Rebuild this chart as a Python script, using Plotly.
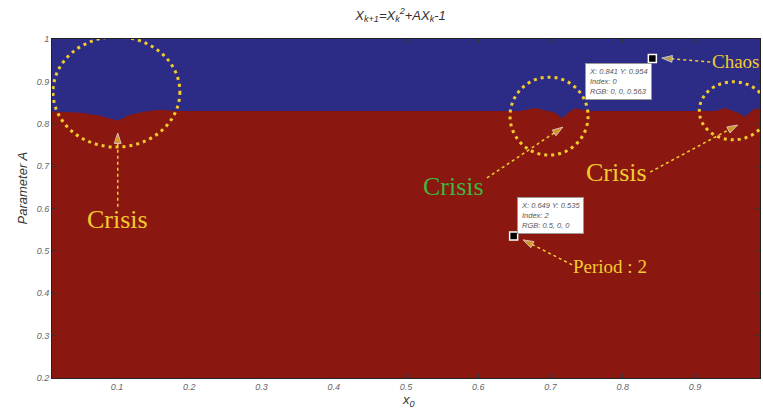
import plotly.graph_objects as go

# ---- data ----
boundary_x = [0.010, 0.049, 0.076, 0.090, 0.101, 0.118, 0.140, 0.160, 0.180, 0.400, 0.658, 0.679,
              0.706, 0.716, 0.722, 0.734, 0.755, 0.928, 0.942, 0.963, 0.969, 0.983, 0.990]
boundary_A = [0.828, 0.825, 0.818, 0.812, 0.806, 0.820, 0.828, 0.832, 0.829, 0.829, 0.829, 0.836,
              0.825, 0.812, 0.822, 0.835, 0.829, 0.829, 0.836, 0.822, 0.815, 0.835, 0.833]

tip_x = [0.841, 0.649]
tip_y = [0.954, 0.535]
tip_text = ["X: 0.841 Y: 0.954<br>Index: 0<br>RGB: 0, 0, 0.563",
            "X: 0.649 Y: 0.535<br>Index: 2<br>RGB: 0.5, 0, 0"]
tip_box_pos = [(0.748, 0.943), (0.654, 0.627)]

x_ticks = [0.1, 0.2, 0.3, 0.4, 0.5, 0.6, 0.7, 0.8, 0.9]
y_ticks = [0.2, 0.3, 0.4, 0.5, 0.6, 0.7, 0.8, 0.9, 1.0]
y_tick_labels = ["0.2", "0.3", "0.4", "0.5", "0.6", "0.7", "0.8", "0.9", "1"]

# annotation geometry (data coordinates)
circles = [(0.0114, 0.745, 0.187, 1.005), (0.644, 0.726, 0.752, 0.910), (0.906, 0.762, 1.000, 0.899)]
arrows = [((0.101, 0.604), (0.101, 0.778)),
          ((0.612, 0.672), (0.717, 0.792)),
          ((0.838, 0.686), (0.959, 0.797)),
          ((0.921, 0.946), (0.854, 0.955)),
          ((0.730, 0.467), (0.662, 0.526))]
labels = [("Crisis", 0.101, 0.573, 26, "#f2cc2e", "center"),
          ("Crisis", 0.566, 0.651, 26, "#3fb53f", "center"),
          ("Crisis", 0.792, 0.686, 26, "#f2cc2e", "center"),
          ("Period : 2", 0.782, 0.462, 19, "#f2cc2e", "center")]
chaos_label = ("Chaos", 1.003, 0.946, 19, "#f2cc2e")

BLUE = "#2c2b86"
RED = "#8a1810"
YEL = "#f2cc2e"

fig = go.Figure()

# red (period-2) region below the boundary; blue background above it
fig.add_trace(go.Scatter(x=boundary_x, y=boundary_A, mode="lines", fill="tozeroy",
                         fillcolor=RED, line=dict(color=RED, width=1), hoverinfo="skip",
                         showlegend=False))

# dotted arrows
for (p0, p1) in arrows:
    fig.add_trace(go.Scatter(x=[p0[0], p1[0]], y=[p0[1], p1[1]], mode="lines+markers",
                             line=dict(color=YEL, width=1.5, dash="dot"),
                             marker=dict(symbol="arrow", angleref="previous", size=[0, 11],
                                         color=YEL),
                             hoverinfo="skip", showlegend=False))

# data tip markers
fig.add_trace(go.Scatter(x=tip_x, y=tip_y, mode="markers",
                         marker=dict(symbol="square", size=8, color="black",
                                     line=dict(color="white", width=1.5)),
                         showlegend=False))

shapes = []
for (x0, y0, x1, y1) in circles:
    shapes.append(dict(type="circle", xref="x", yref="y", x0=x0, y0=y0, x1=x1, y1=y1,
                       line=dict(color=YEL, width=3, dash="3px,4px")))

annotations = []
for (t, x, y, s, c, xa) in labels:
    annotations.append(dict(x=x, y=y, text=t, showarrow=False,
                            font=dict(family="Liberation Serif", size=s, color=c),
                            xanchor=xa, yanchor="middle"))
t, x, y, s, c = chaos_label
annotations.append(dict(x=x, y=y, xref="paper", yref="y", text=t, showarrow=False,
                        font=dict(family="Liberation Serif", size=s, color=c),
                        xanchor="right", yanchor="middle"))
for (bx, by), t in zip(tip_box_pos, tip_text):
    annotations.append(dict(x=bx, y=by, text="<i>" + t + "</i>", showarrow=False, align="left",
                            xanchor="left", yanchor="top", bgcolor="white",
                            bordercolor="#999999", borderwidth=1, borderpad=3,
                            font=dict(family="Liberation Sans", size=7.5, color="#555555")))
# axis titles
annotations.append(dict(x=0.503, y=-0.035, xref="paper", yref="paper",
                        text="<i>x<sub>0</sub></i>", showarrow=False,
                        xanchor="center", yanchor="top",
                        font=dict(family="Liberation Sans", size=13, color="#333333")))
annotations.append(dict(x=-0.042, y=0.56, xref="paper", yref="paper",
                        text="<i>Parameter A</i>", showarrow=False, textangle=-90,
                        xanchor="center", yanchor="middle",
                        font=dict(family="Liberation Sans", size=13, color="#333333")))

fig.update_layout(
    width=763, height=410,
    margin=dict(l=52, r=3, t=39, b=32, autoexpand=False),
    paper_bgcolor="white", plot_bgcolor=BLUE,
    title=dict(text="<i>X<sub>k+1</sub>=X<sub>k</sub><sup>2</sup>+AX<sub>k</sub>-1</i>",
               x=0.525, xanchor="center", y=0.963, yanchor="middle",
               font=dict(family="Liberation Sans", size=13, color="#333333")),
    shapes=shapes, annotations=annotations,
    xaxis=dict(range=[0.01, 0.99], tickvals=x_ticks, ticktext=[f"<i>{v:g}</i>" for v in x_ticks],
               ticks="inside", ticklen=4, tickcolor="#333", showgrid=False, zeroline=False,
               showline=True, linecolor="#222", linewidth=1, mirror="ticks", automargin=False,
               tickfont=dict(family="Liberation Sans", size=9, color="#666666")),
    yaxis=dict(range=[0.2, 1.0], tickvals=y_ticks, ticktext=[f"<i>{t}</i>" for t in y_tick_labels],
               ticks="inside", ticklen=4, tickcolor="#333", showgrid=False, zeroline=False,
               showline=True, linecolor="#222", linewidth=1, mirror="ticks", automargin=False,
               tickfont=dict(family="Liberation Sans", size=9, color="#666666")),
)

fig.write_html("out.html", config={"displayModeBar": False},
               post_script="document.body.style.margin='0';")
